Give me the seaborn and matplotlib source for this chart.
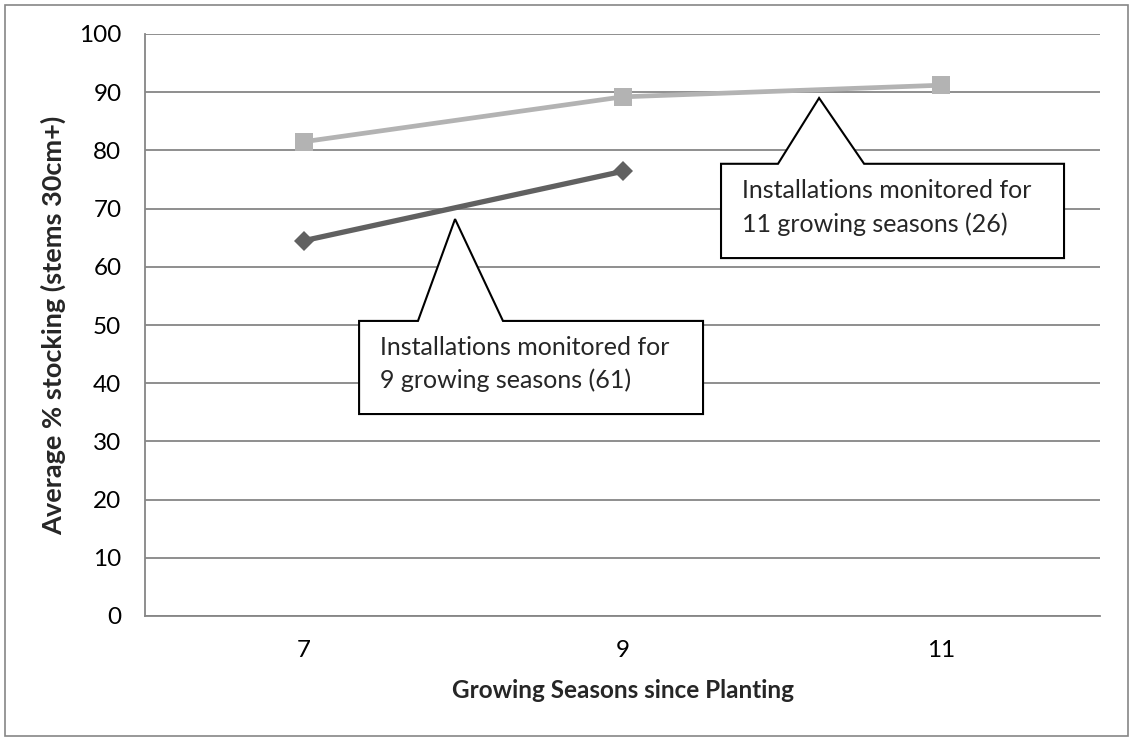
import matplotlib
matplotlib.use("Agg")
import matplotlib.pyplot as plt
import seaborn as sns
import pandas as pd
from matplotlib.patches import Polygon, Rectangle

# data
seasons_9 = [7, 9]
stocking_9 = [64.5, 76.4]
seasons_11 = [7, 9, 11]
stocking_11 = [81.5, 89.2, 91.2]

x_ticks = [6, 7, 8, 9, 10, 11, 12]
x_tick_labels = ["", "7", "", "9", "", "11", ""]
y_ticks = [0, 10, 20, 30, 40, 50, 60, 70, 80, 90, 100]

note_9 = "Installations monitored for\n9 growing seasons (61)"
note_11 = "Installations monitored for\n11 growing seasons (26)"

df9 = pd.DataFrame({"season": seasons_9, "stocking": stocking_9})
df11 = pd.DataFrame({"season": seasons_11, "stocking": stocking_11})

sns.set_style("white")
plt.rcParams["font.family"] = ["Lato", "DejaVu Sans"]

grey = "#868686"
fig = plt.figure(figsize=(11.31, 7.38), dpi=100)
ax = fig.add_axes([145 / 1131, 1 - 616 / 738, 955 / 1131, 582 / 738])

ax.yaxis.grid(True, color=grey, linewidth=1.3, zorder=0)
ax.set_axisbelow(True)

sns.lineplot(data=df9, x="season", y="stocking", ax=ax, color="#616161",
             linewidth=3.8, marker="D", markersize=10, markeredgewidth=0, zorder=3)
sns.lineplot(data=df11, x="season", y="stocking", ax=ax, color="#b3b3b3",
             linewidth=3.4, marker="s", markersize=13, markeredgewidth=0, zorder=3)

ax.set_xlim(6, 12)
ax.set_ylim(0, 100)
ax.set_xticks(x_ticks)
ax.set_xticklabels(x_tick_labels)
ax.set_yticks(y_ticks)
ax.tick_params(axis="both", labelsize=17.5, colors=grey, labelcolor="black",
               length=6, width=1.3, pad=11, direction="out")
for s in ["top", "right"]:
    ax.spines[s].set_visible(False)
for s in ["left", "bottom"]:
    ax.spines[s].set_color(grey)
    ax.spines[s].set_linewidth(1.3)

ax.set_xlabel("Growing Seasons since Planting", fontsize=17.5, fontweight="bold", labelpad=13)
ax.set_ylabel("Average % stocking (stems 30cm+)", fontsize=19.5, fontweight="bold", labelpad=9)


def callout(x0, x1, y0, y1, b0, b1, tip, text):
    pts = [(x0, y1), (b0, y1), tip, (b1, y1), (x1, y1), (x1, y0), (x0, y0)]
    ax.add_patch(Polygon(pts, closed=True, facecolor="white", edgecolor="black",
                         linewidth=1.5, zorder=4, clip_on=False))
    ax.text(x0 + 0.13, (y0 + y1) / 2 + 0.6, text, fontsize=18, ha="left", va="center",
            linespacing=1.5, zorder=5)


callout(7.345, 9.506, 34.7, 50.7, 7.715, 8.249, (7.948, 68.2), note_9)
callout(9.619, 11.774, 61.5, 77.7, 9.977, 10.518, (10.235, 89.0), note_11)

fig.patches.append(Rectangle((5 / 1131, 2 / 738), 1123 / 1131, 731 / 738,
                             transform=fig.transFigure, fill=False,
                             edgecolor=grey, linewidth=1.2))

fig.savefig("out.png", dpi=100)
